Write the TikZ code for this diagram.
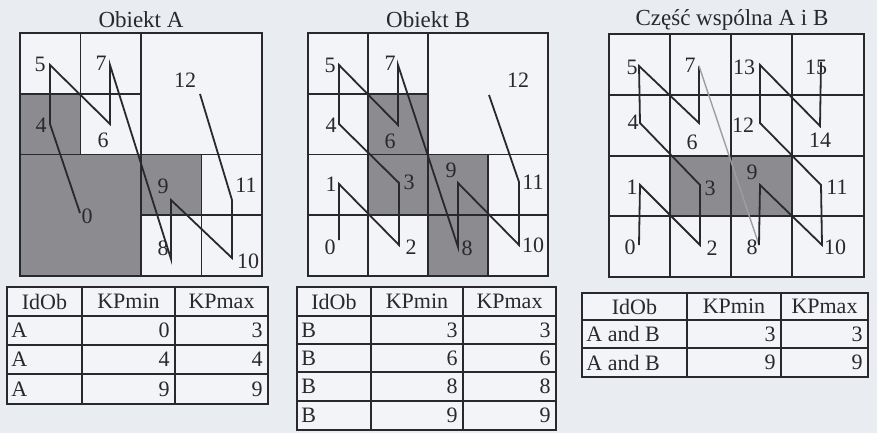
\documentclass[tikz,border=0pt]{standalone}
\usepackage{fontspec}
\setmainfont{Liberation Serif}
\usetikzlibrary{positioning}
\definecolor{paper}{RGB}{233,236,241}
\definecolor{cellbg}{RGB}{242,244,247}
\definecolor{darkcell}{RGB}{140,140,144}
\definecolor{ink}{RGB}{40,40,45}

\begin{document}
\begin{tikzpicture}[x=0.5pt, y=-0.5pt,
  grid/.style={draw=ink, line width=0.8pt},
  filled/.style={fill=darkcell},
  curve/.style={draw=ink, line width=0.9pt},
  faint/.style={draw=ink!45, line width=0.7pt},
  num/.style={font=\fontsize{11}{12}\selectfont, inner sep=0pt, text=ink},
  title/.style={font=\fontsize{11.5}{13}\selectfont, inner sep=0pt, text=ink},
  tab/.style={draw=ink, line width=0.7pt},
  cellr/.style={num, anchor=east},
  celll/.style={num, anchor=west}
]
% page
\fill[paper] (0,0) rectangle (877,433);
\useasboundingbox (0,0) rectangle (877,433);

% titles
\node[title] (titleA) at (141,20) {Obiekt A};
\node[title] (titleB) at (428,20) {Obiekt B};
\node[title] (titleC) at (732,20) {Część wspólna A i B};

% ---- grid A
\fill[cellbg] (20,33) rectangle (262,276);
\fill[filled] (20,94) rectangle (80.5,154.5);
\fill[filled] (20,154.5) rectangle (141,276);
\fill[filled] (141,154.5) rectangle (201.5,215);
\draw[grid] (20,33) rectangle (262,276);
\draw[grid] (80.5,33) -- (80.5,154.5) (20,94) -- (141,94)
  (20,154.5) -- (262,154.5) (141,33) -- (141,276)
  (201.5,154.5) -- (201.5,276) (141,215) -- (262,215);
\coordinate (a0) at (80,213);
\coordinate (a4) at (50,124);
\coordinate (a5) at (50,65);
\coordinate (a6) at (110,124);
\coordinate (a7) at (110,65);
\coordinate (a8) at (171,259);
\coordinate (a9) at (171,200);
\coordinate (a10) at (232,258);
\coordinate (a11) at (232,200);
\coordinate (a12) at (200,94);
\draw[curve] (a0) -- (a4) -- (a5) -- (a6) -- (a7) -- (a8) -- (a9) -- (a10) -- (a11) -- (a12);
\foreach \n/\p in {0/{87,216}, 4/{41,125}, 5/{40,64}, 6/{103,140}, 7/{101,63},
  8/{163,248}, 9/{163,186}, 10/{248,261}, 11/{246,185}, 12/{185,80}}
  \node[num] (la\n) at (\p) {\n};

% ---- grid B
\fill[cellbg] (308,33) rectangle (548,276);
\fill[filled] (368,94) rectangle (428,215);
\fill[filled] (428,154.5) rectangle (488,276);
\draw[grid] (308,33) rectangle (548,276);
\draw[grid] (368,33) -- (368,276) (428,33) -- (428,276) (488,154.5) -- (488,276)
  (308,94) -- (428,94) (308,154.5) -- (548,154.5) (308,215) -- (548,215);
\coordinate (b0) at (339,240);
\coordinate (b1) at (339,184);
\coordinate (b2) at (399,245);
\coordinate (b3) at (399,183);
\coordinate (b4) at (339,124);
\coordinate (b5) at (339,65);
\coordinate (b6) at (398,125);
\coordinate (b7) at (398,65);
\coordinate (b8) at (458,247);
\coordinate (b9) at (458,183);
\coordinate (b10) at (519,245);
\coordinate (b11) at (519,182);
\coordinate (b12) at (489,95);
\draw[curve] (b0) -- (b1) -- (b2) -- (b3) -- (b4) -- (b5) -- (b6) -- (b7) -- (b8)
  -- (b9) -- (b10) -- (b11) -- (b12);
\foreach \n/\p in {0/{330,247}, 1/{331,184}, 2/{411,247}, 3/{409,182}, 4/{331,125},
  5/{330,65}, 6/{390,141}, 7/{390,63}, 8/{467,248}, 9/{451,170}, 10/{533,245},
  11/{533,182}, 12/{518,80}}
  \node[num] (lb\n) at (\p) {\n};

% ---- grid C (common part)
\fill[cellbg] (609,34) rectangle (864,277);
\fill[filled] (670,156) rectangle (792,216);
\draw[grid] (609,34) rectangle (864,277);
\foreach \x in {670,731,792} \draw[grid] (\x,34) -- (\x,277);
\foreach \y in {95,156,216} \draw[grid] (609,\y) -- (864,\y);
\coordinate (c0) at (639,245);
\coordinate (c1) at (640,185);
\coordinate (c2) at (700,245);
\coordinate (c3) at (700,185);
\coordinate (c4) at (640,123);
\coordinate (c5) at (639,66);
\coordinate (c6) at (699,123);
\coordinate (c7) at (699,66);
\coordinate (c8) at (759,245);
\coordinate (c9) at (760,185);
\coordinate (c10) at (822,245);
\coordinate (c11) at (821,185);
\coordinate (c12) at (760,123);
\coordinate (c13) at (760,65);
\coordinate (c14) at (820,126);
\coordinate (c15) at (821,62);
\draw[curve] (c0) -- (c1) -- (c2) -- (c3) -- (c4) -- (c5) -- (c6) -- (c7);
\draw[faint] (c7) -- (c8);
\draw[curve] (c8) -- (c9) -- (c10) -- (c11) -- (c12) -- (c13) -- (c14) -- (c15);
\foreach \n/\p in {0/{630,247}, 1/{632,187}, 2/{712,248}, 3/{710,188}, 4/{633,122},
  5/{632,67}, 6/{692,142}, 7/{690,65}, 8/{752,247}, 9/{752,172}, 10/{835,247},
  11/{837,187}, 12/{743,125}, 13/{744,67}, 14/{820,140}, 15/{816,67}}
  \node[num] (lc\n) at (\p) {\n};

% ---- table A
\fill[cellbg] (7,287) rectangle (268,404);
\draw[tab] (7,287) rectangle (268,404);
\foreach \y in {316,345,374} \draw[tab] (7,\y) -- (268,\y);
\foreach \x in {82,175} \draw[tab] (\x,287) -- (\x,404);
\node[num] (hA1) at (44.5,301.5) {IdOb};
\node[num] (hA2) at (128.5,301.5) {KPmin};
\node[num] (hA3) at (221.5,301.5) {KPmax};
\foreach \k/\y/\lo/\hi in {1/330.5/0/3, 2/359.5/4/4, 3/389/9/9} {
  \node[celll] (idA\k) at (11,\y) {A};
  \node[cellr] (minA\k) at (170,\y) {\lo};
  \node[cellr] (maxA\k) at (263,\y) {\hi};
}

% ---- table B
\fill[cellbg] (297,287) rectangle (556,430);
\draw[tab] (297,287) rectangle (556,430);
\foreach \y in {316,344,372,401} \draw[tab] (297,\y) -- (556,\y);
\foreach \x in {371,463} \draw[tab] (\x,287) -- (\x,430);
\node[num] (hB1) at (334,301.5) {IdOb};
\node[num] (hB2) at (417,301.5) {KPmin};
\node[num] (hB3) at (509.5,301.5) {KPmax};
\foreach \k/\y/\v in {1/330/3, 2/358/6, 3/386.5/8, 4/415.5/9} {
  \node[celll] (idB\k) at (301,\y) {B};
  \node[cellr] (minB\k) at (458,\y) {\v};
  \node[cellr] (maxB\k) at (551,\y) {\v};
}

% ---- table C
\fill[cellbg] (582,293) rectangle (868,377);
\draw[tab] (582,293) rectangle (868,377);
\foreach \y in {320,348} \draw[tab] (582,\y) -- (868,\y);
\foreach \x in {687,781} \draw[tab] (\x,293) -- (\x,377);
\node[num] (hC1) at (634.5,306.5) {IdOb};
\node[num] (hC2) at (734,306.5) {KPmin};
\node[num] (hC3) at (824.5,306.5) {KPmax};
\foreach \k/\y/\v in {1/334/3, 2/362.5/9} {
  \node[celll] (idC\k) at (586,\y) {A and B};
  \node[cellr] (minC\k) at (776,\y) {\v};
  \node[cellr] (maxC\k) at (863,\y) {\v};
}
\end{tikzpicture}
\end{document}
